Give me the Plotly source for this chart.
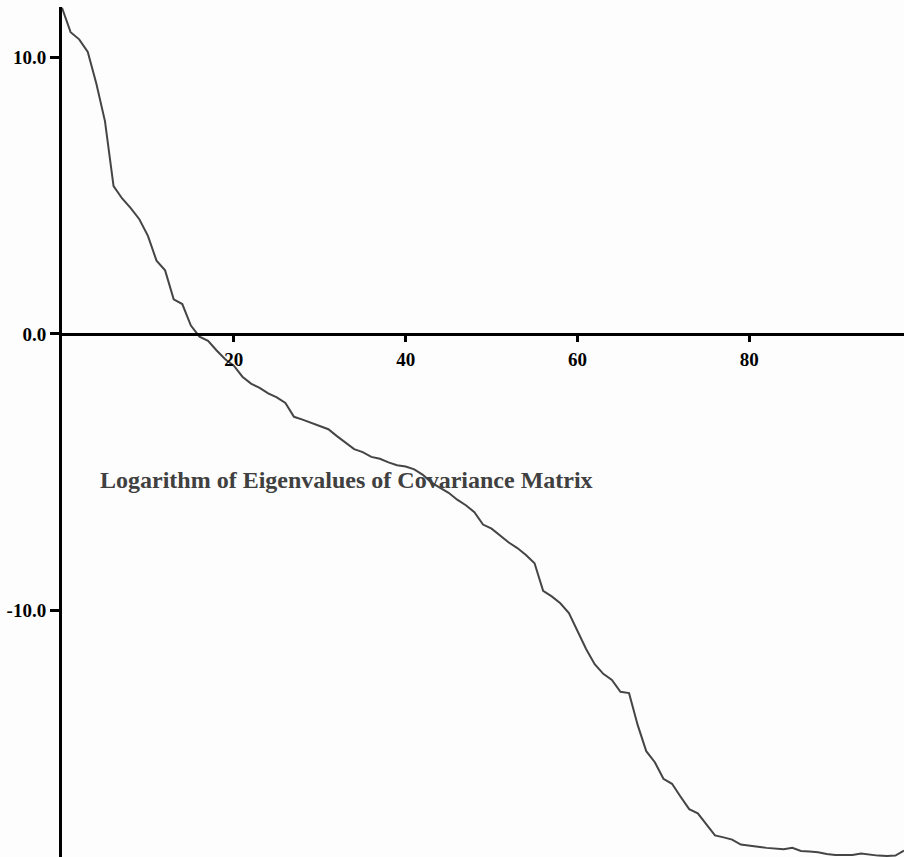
import plotly.graph_objects as go

# Natural log of the covariance-matrix eigenvalues, sorted in decreasing order
index = list(range(99))
log_eigenvalues = [
    11.80, 10.92, 10.66, 10.20, 9.05, 7.70, 5.35, 4.90, 4.55, 4.15,
    3.55, 2.65, 2.30, 1.25, 1.08, 0.30, -0.10, -0.25, -0.60, -0.92,
    -1.15, -1.55, -1.80, -1.95, -2.15, -2.30, -2.50, -3.00, -3.10, -3.22,
    -3.35, -3.45, -3.70, -3.95, -4.17, -4.28, -4.45, -4.52, -4.65, -4.75,
    -4.80, -4.90, -5.10, -5.38, -5.58, -5.75, -6.00, -6.20, -6.45, -6.90,
    -7.05, -7.30, -7.55, -7.75, -8.00, -8.30, -9.30, -9.50, -9.75, -10.10,
    -10.75, -11.40, -11.95, -12.30, -12.52, -12.95, -13.00, -14.15, -15.10, -15.50,
    -16.10, -16.28, -16.75, -17.20, -17.35, -17.75, -18.15, -18.22, -18.30, -18.48,
    -18.53, -18.56, -18.60, -18.62, -18.65, -18.60, -18.71, -18.73, -18.76, -18.82,
    -18.86, -18.86, -18.86, -18.80, -18.85, -18.88, -18.89, -18.88, -18.70,
]

x_ticks = [20, 40, 60, 80]
x_tick_labels = ["20", "40", "60", "80"]
y_ticks = [10, 0, -10]
y_tick_labels = ["10.0", "0.0", "-10.0"]

title_text = "Logarithm of Eigenvalues of Covariance Matrix"

x_range = [0, 98.0]
y_range = [-18.93, 11.83]
# fraction of the plot height where y = 0 sits, so the x axis crosses there
x_axis_pos = (0 - y_range[0]) / (y_range[1] - y_range[0])

tick_font = dict(family="Liberation Serif", size=19, color="#000000")

fig = go.Figure()
fig.add_trace(go.Scatter(
    x=index, y=log_eigenvalues, mode="lines",
    line=dict(color="#454545", width=2),
    hoverinfo="skip", showlegend=False, cliponaxis=True,
))

fig.add_annotation(
    x=4.2, y=-5.3, xref="x", yref="y", xanchor="left", yanchor="middle",
    text="<b>" + title_text + "</b>", showarrow=False,
    font=dict(family="Liberation Serif", size=24, color="#404040"),
)

fig.update_layout(
    width=904, height=857,
    margin=dict(l=62, r=0, t=7, b=0, pad=0),
    paper_bgcolor="#fdfdfd", plot_bgcolor="#fdfdfd",
    showlegend=False,
    xaxis=dict(
        range=x_range, anchor="free", position=x_axis_pos,
        showgrid=False, zeroline=False,
        showline=True, linecolor="#000000", linewidth=3,
        ticks="outside", ticklen=6, tickwidth=3, tickcolor="#000000",
        tickvals=x_ticks, ticktext=["<b>" + t + "</b>" for t in x_tick_labels],
        tickfont=tick_font, ticklabelstandoff=1,
    ),
    yaxis=dict(
        range=y_range,
        showgrid=False, zeroline=False,
        showline=True, linecolor="#000000", linewidth=3,
        ticks="outside", ticklen=9, tickwidth=3, tickcolor="#000000",
        tickvals=y_ticks, ticktext=["<b>" + t + "</b>" for t in y_tick_labels],
        tickfont=tick_font, ticklabelstandoff=0,
    ),
)

fig.write_html("out.html")
